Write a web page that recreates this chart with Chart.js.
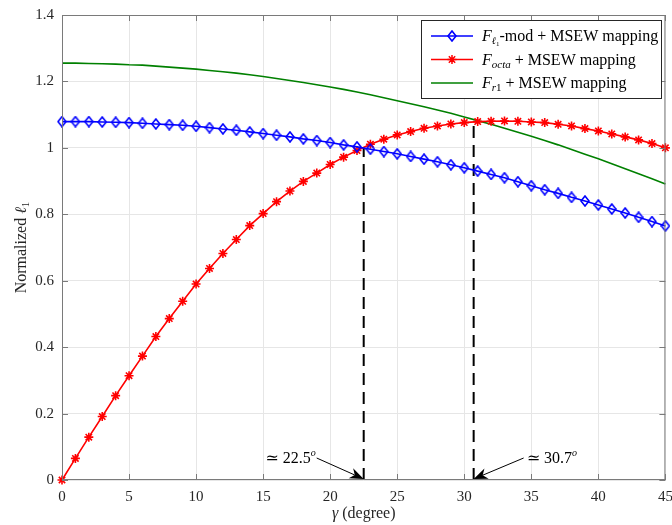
<!DOCTYPE html>
<html>
<head>
<meta charset="utf-8">
<script src="https://cdn.jsdelivr.net/npm/chart.js@4.4.1/dist/chart.umd.min.js"></script>
<style>
  html, body { margin: 0; padding: 0; background: #fff; }
  canvas { display: block; }
</style>
</head>
<body>
<canvas id="chart" width="672" height="525"></canvas>
<script>
/* ===============================
   DATA
================================ */
const gamma = [0, 1, 2, 3, 4, 5, 6, 7, 8, 9, 10, 11, 12, 13, 14, 15, 16, 17, 18, 19, 20,
    21, 22, 23, 24, 25, 26, 27, 28, 29, 30, 31, 32, 33, 34, 35, 36, 37, 38, 39, 40,
    41, 42, 43, 44, 45];

const l1Mod = [1.079, 1.079, 1.079, 1.078, 1.077, 1.076, 1.074, 1.072, 1.070, 1.068, 1.065,
    1.061, 1.057, 1.053, 1.048, 1.043, 1.038, 1.033, 1.027, 1.022, 1.016,
    1.009, 1.003, 0.996, 0.989, 0.982, 0.974, 0.966, 0.958, 0.949, 0.940,
    0.930, 0.920, 0.910, 0.898, 0.886, 0.874, 0.863, 0.851, 0.840, 0.828,
    0.816, 0.804, 0.791, 0.778, 0.765];

const octa = [0, 0.065, 0.129, 0.191, 0.254, 0.314, 0.373, 0.432, 0.486, 0.538, 0.590,
    0.637, 0.682, 0.724, 0.766, 0.802, 0.838, 0.870, 0.899, 0.924, 0.950,
    0.972, 0.992, 1.011, 1.026, 1.039, 1.049, 1.059, 1.066, 1.072, 1.076,
    1.079, 1.080, 1.081, 1.080, 1.078, 1.076, 1.071, 1.066, 1.058, 1.051,
    1.042, 1.033, 1.024, 1.013, 1.000];

const r1 = [1.255, 1.255, 1.254, 1.253, 1.252, 1.250, 1.249, 1.246, 1.243, 1.240, 1.237,
    1.233, 1.229, 1.225, 1.220, 1.215, 1.209, 1.203, 1.197, 1.190, 1.183,
    1.176, 1.168, 1.160, 1.151, 1.142, 1.133, 1.124, 1.114, 1.104, 1.093,
    1.082, 1.071, 1.059, 1.047, 1.035, 1.022, 1.009, 0.995, 0.981, 0.967,
    0.952, 0.937, 0.922, 0.907, 0.891];

// dashed guide lines: crossing angles and the curve height there
const markAngles = [22.5, 30.7];
const markTops = [1.0, 1.081];
const markLabels = ["\u2243 22.5", "\u2243 30.7"];

const xTicks = [0, 5, 10, 15, 20, 25, 30, 35, 40, 45];
const yTicks = [0, 0.2, 0.4, 0.6, 0.8, 1.0, 1.2, 1.4];

/* ===============================
   STYLE HELPERS
================================ */
const SERIF = '"Liberation Serif", "DejaVu Serif", serif';
const AXIS_COLOR = "#7a7a7a";
const TEXT_COLOR = "#262626";

function font(size, italic) {
    return (italic ? "italic " : "") + size + "px " + SERIF;
}

// open, slightly narrow diamond like the MATLAB marker
function makeDiamond() {
    const c = document.createElement("canvas");
    c.width = 10;
    c.height = 12;
    const g = c.getContext("2d");
    g.strokeStyle = "#0000ff";
    g.lineWidth = 1.6;
    g.beginPath();
    g.moveTo(5, 1);
    g.lineTo(9, 6);
    g.lineTo(5, 11);
    g.lineTo(1, 6);
    g.closePath();
    g.stroke();
    return c;
}
const diamond = makeDiamond();

// text made of pieces with own font and vertical shift
function richWidth(ctx, parts) {
    let w = 0;
    parts.forEach(p => {
        ctx.font = p.font;
        w += ctx.measureText(p.t).width;
    });
    return w;
}

function drawRich(ctx, x, y, parts) {
    ctx.textAlign = "left";
    ctx.textBaseline = "alphabetic";
    parts.forEach(p => {
        ctx.font = p.font;
        ctx.fillText(p.t, x, y + (p.dy || 0));
        x += ctx.measureText(p.t).width;
    });
    return x;
}

function drawArrow(ctx, x0, y0, x1, y1) {
    const ang = Math.atan2(y1 - y0, x1 - x0);
    const L = 14, W = 5.5;
    ctx.beginPath();
    ctx.moveTo(x0, y0);
    ctx.lineTo(x1 - L * 0.7 * Math.cos(ang), y1 - L * 0.7 * Math.sin(ang));
    ctx.stroke();
    ctx.save();
    ctx.translate(x1, y1);
    ctx.rotate(ang);
    ctx.beginPath();
    ctx.moveTo(0, 0);
    ctx.lineTo(-L, -W);
    ctx.lineTo(-L * 0.7, 0);
    ctx.lineTo(-L, W);
    ctx.closePath();
    ctx.fill();
    ctx.restore();
}

/* ===============================
   PLUGIN: box, inner ticks, legend, notes, titles
================================ */
const decorPlugin = {
    id: "decor",
    afterDatasetsDraw(chart) {
        const ctx = chart.ctx;
        const a = chart.chartArea;
        const xs = chart.scales.x, ys = chart.scales.y;
        ctx.save();
        ctx.strokeStyle = AXIS_COLOR;
        ctx.lineWidth = 1;
        ctx.strokeRect(a.left + 0.5, a.top + 0.5, a.right - a.left - 1, a.bottom - a.top - 1);
        ctx.beginPath();
        xTicks.forEach(v => {
            const px = Math.round(xs.getPixelForValue(v)) + 0.5;
            ctx.moveTo(px, a.bottom);
            ctx.lineTo(px, a.bottom - 6);
            ctx.moveTo(px, a.top);
            ctx.lineTo(px, a.top + 6);
        });
        yTicks.forEach(v => {
            const py = Math.round(ys.getPixelForValue(v)) + 0.5;
            ctx.moveTo(a.left, py);
            ctx.lineTo(a.left + 6, py);
            ctx.moveTo(a.right, py);
            ctx.lineTo(a.right - 6, py);
        });
        ctx.stroke();
        ctx.restore();
    },
    afterDraw(chart) {
        const ctx = chart.ctx;
        const a = chart.chartArea;
        const xs = chart.scales.x, ys = chart.scales.y;
        ctx.save();

        /* legend */
        const bx = 421, by = 20, bw = 240, bh = 78;
        ctx.fillStyle = "#ffffff";
        ctx.fillRect(bx, by, bw, bh);
        ctx.strokeStyle = "#262626";
        ctx.lineWidth = 1;
        ctx.strokeRect(bx + 0.5, by + 0.5, bw, bh);

        const rows = [
            { y: 36, color: "#0000ff", marker: "diamond",
              parts: [
                  { t: "F", font: font(16, true) },
                  { t: "\u2113", font: font(10, true), dy: 3 },
                  { t: "1", font: font(7), dy: 5 },
                  { t: "-mod + MSEW mapping", font: font(16) }
              ] },
            { y: 59.5, color: "#ff0000", marker: "star",
              parts: [
                  { t: "F", font: font(16, true) },
                  { t: "octa", font: font(11, true), dy: 3 },
                  { t: " + MSEW mapping", font: font(16) }
              ] },
            { y: 83, color: "#008000", marker: null,
              parts: [
                  { t: "F", font: font(16, true) },
                  { t: "r", font: font(11, true), dy: 3 },
                  { t: "1", font: font(11), dy: 3 },
                  { t: " + MSEW mapping", font: font(16) }
              ] }
        ];
        rows.forEach(r => {
            ctx.strokeStyle = r.color;
            ctx.lineWidth = 1.5;
            ctx.beginPath();
            ctx.moveTo(431, r.y);
            ctx.lineTo(473, r.y);
            ctx.stroke();
            if (r.marker === "diamond") {
                ctx.drawImage(diamond, 452 - 5, r.y - 6);
            } else if (r.marker === "star") {
                ctx.beginPath();
                for (let k = 0; k < 4; k++) {
                    const t = k * Math.PI / 4;
                    ctx.moveTo(452 - 4.5 * Math.cos(t), r.y - 4.5 * Math.sin(t));
                    ctx.lineTo(452 + 4.5 * Math.cos(t), r.y + 4.5 * Math.sin(t));
                }
                ctx.stroke();
            }
            ctx.fillStyle = "#000000";
            drawRich(ctx, 482, r.y + 5, r.parts);
        });

        /* arrows + notes at the crossing angles */
        ctx.fillStyle = "#000000";
        ctx.strokeStyle = "#000000";
        ctx.lineWidth = 1;
        const y0 = ys.getPixelForValue(0);
        markAngles.forEach((g, i) => {
            const tipX = xs.getPixelForValue(g);
            const left = i === 0;
            const tailX = left ? tipX - 47 : tipX + 50;
            const tailY = y0 - 22;
            drawArrow(ctx, tailX, tailY, tipX, y0 - 1);
            const parts = [
                { t: markLabels[i], font: font(16) },
                { t: "o", font: font(10, true), dy: -7 }
            ];
            const w = richWidth(ctx, parts);
            const startX = left ? tailX - 1 - w : tailX + 3;
            drawRich(ctx, startX, tailY + 5, parts);
        });

        /* axis titles */
        ctx.fillStyle = TEXT_COLOR;
        const xt = [
            { t: "\u03b3", font: font(16, true) },
            { t: " (degree)", font: font(16) }
        ];
        const cx = (a.left + a.right) / 2;
        drawRich(ctx, cx - richWidth(ctx, xt) / 2, 518, xt);

        const yt = [
            { t: "Normalized ", font: font(16) },
            { t: "\u2113", font: font(16, true) },
            { t: "1", font: font(11), dy: 3 }
        ];
        ctx.translate(26, (a.top + a.bottom) / 2);
        ctx.rotate(-Math.PI / 2);
        drawRich(ctx, -richWidth(ctx, yt) / 2, 0, yt);

        ctx.restore();
    }
};

/* ===============================
   CHART
================================ */
function pts(ys) {
    return gamma.map((g, i) => ({ x: g, y: ys[i] }));
}

const guideSets = markAngles.map((g, i) => ({
    label: "guide " + i,
    data: [{ x: g, y: 0 }, { x: g, y: markTops[i] }],
    borderColor: "#000000",
    borderWidth: 2,
    borderDash: [12, 7],
    pointRadius: 0,
    clip: false
}));

new Chart(document.getElementById("chart"), {
    type: "line",
    data: {
        datasets: [
            {
                label: "F_l1-mod + MSEW mapping",
                data: pts(l1Mod),
                borderColor: "#0000ff",
                borderWidth: 1.6,
                pointStyle: diamond,
                pointRadius: 5,
                clip: false
            },
            {
                label: "F_octa + MSEW mapping",
                data: pts(octa),
                borderColor: "#ff0000",
                backgroundColor: "#ff0000",
                borderWidth: 1.6,
                pointStyle: "star",
                pointRadius: 4.5,
                pointBorderWidth: 1.6,
                clip: false
            },
            {
                label: "F_r1 + MSEW mapping",
                data: pts(r1),
                borderColor: "#008000",
                borderWidth: 1.6,
                pointRadius: 0,
                clip: false
            },
            ...guideSets
        ]
    },
    options: {
        responsive: false,
        animation: false,
        devicePixelRatio: 1,
        layout: { padding: { left: 0, right: 6, top: 15, bottom: 0 } },
        plugins: {
            legend: { display: false },
            tooltip: { enabled: false }
        },
        scales: {
            x: {
                type: "linear",
                min: 0,
                max: 45,
                afterBuildTicks: s => { s.ticks = xTicks.map(v => ({ value: v })); },
                afterFit: s => { s.height = 45; s.paddingLeft = 0; s.paddingRight = 0; },
                grid: { color: "#e6e6e6", drawTicks: false },
                border: { display: false },
                ticks: {
                    padding: 8,
                    color: TEXT_COLOR,
                    font: { family: SERIF, size: 15 },
                    callback: v => String(v)
                }
            },
            y: {
                type: "linear",
                min: 0,
                max: 1.4,
                afterBuildTicks: s => { s.ticks = yTicks.map(v => ({ value: v })); },
                afterFit: s => { s.width = 62; s.paddingTop = 0; s.paddingBottom = 0; },
                grid: { color: "#e6e6e6", drawTicks: false },
                border: { display: false },
                ticks: {
                    padding: 8,
                    color: TEXT_COLOR,
                    font: { family: SERIF, size: 15 },
                    callback: v => String(+v.toFixed(1))
                }
            }
        }
    },
    plugins: [decorPlugin]
});
</script>
</body>
</html>
